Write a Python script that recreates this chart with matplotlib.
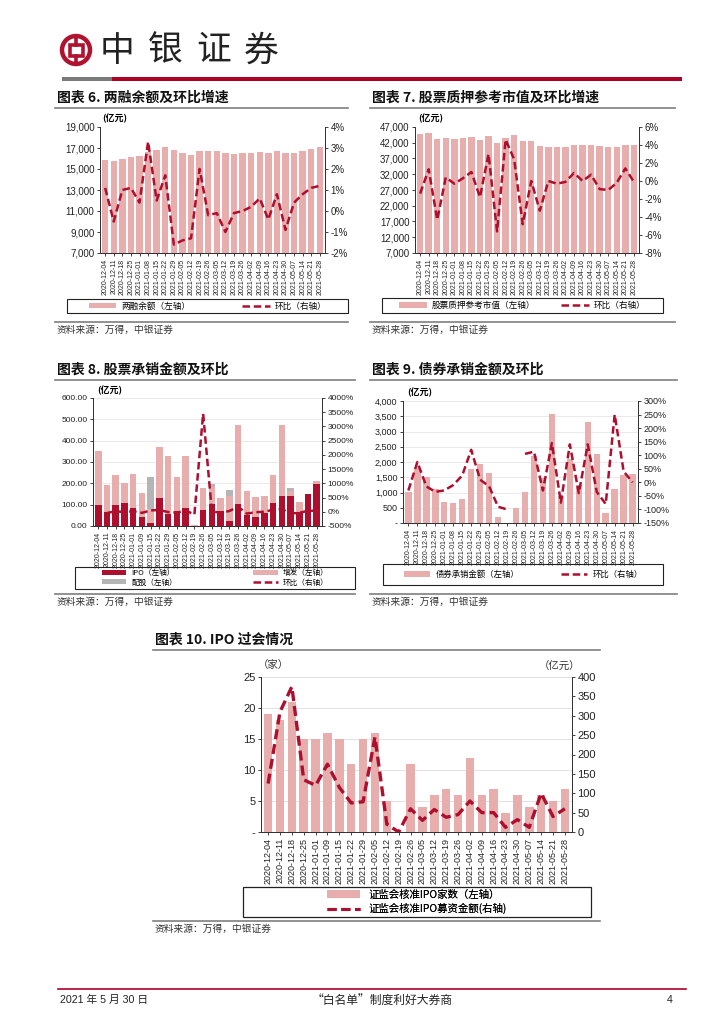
import numpy as np
import matplotlib
matplotlib.use("Agg")
import matplotlib.pyplot as plt
from matplotlib.patches import Rectangle, Circle, Patch
from matplotlib.lines import Line2D
from matplotlib.ticker import FuncFormatter

plt.rcParams['font.family'] = ['Liberation Sans Narrow', 'Liberation Sans', 'Noto Sans CJK SC']
plt.rcParams['axes.unicode_minus'] = False

# ---------------- data ----------------
dates_a = ['2020-12-04', '2020-12-11', '2020-12-18', '2020-12-25', '2021-01-01', '2021-01-08',
           '2021-01-15', '2021-01-22', '2021-01-29', '2021-02-05', '2021-02-12', '2021-02-19',
           '2021-02-26', '2021-03-05', '2021-03-12', '2021-03-19', '2021-03-26', '2021-04-02',
           '2021-04-09', '2021-04-16', '2021-04-23', '2021-04-30', '2021-05-07', '2021-05-14',
           '2021-05-21', '2021-05-28']
dates_b = [d if d != '2021-01-08' else '2021-01-09' for d in dates_a]

# chart 6: margin balance
margin_bal = [15850, 15750, 15950, 16100, 16200, 16650, 16800, 17050, 16800, 16550, 16350, 16750,
              16700, 16700, 16500, 16450, 16500, 16500, 16650, 16550, 16700, 16550, 16550, 16700,
              16900, 17100]
margin_chg = [1.1, -0.5, 1.0, 1.1, 0.4, 3.3, 0.5, 1.7, -1.6, -1.4, -1.3, 2.0, -0.2, -0.1, -1.0,
              -0.1, 0.0, 0.2, 0.6, -0.4, 0.8, -0.9, 0.4, 0.8, 1.1, 1.2]

# chart 7: pledged stock value
pledge_val = [44700, 45000, 43200, 43400, 43200, 43400, 43800, 43000, 44200, 41800, 43600, 44600,
              42400, 42500, 41000, 40800, 40700, 40700, 41200, 41200, 41400, 41000, 40700, 40700,
              41300, 41300]
pledge_chg = [-1.4, 1.3, -4.3, 0.4, -0.3, 0.3, 1.0, -1.8, 3.0, -5.6, 4.6, 2.4, -4.8, 0.0, -3.3,
              0.0, -0.3, -0.1, 0.9, 0.0, 0.7, -0.9, -1.0, -0.2, 1.4, -0.1]

# chart 8: equity underwriting
ipo_amt = [100, 65, 97, 108, 85, 40, 13, 133, 55, 68, 85, 0, 77, 105, 68, 22, 105, 52, 42, 62,
           110, 140, 140, 65, 150, 198]
seo_amt = [253, 128, 140, 92, 160, 113, 65, 237, 275, 160, 245, 5, 101, 78, 65, 118, 367, 111,
           96, 78, 130, 335, 25, 48, 2, 14]
rights_amt = [0, 0, 0, 0, 0, 0, 150, 0, 0, 0, 0, 0, 0, 14, 0, 30, 0, 0, 0, 0, 0, 0, 13, 0, 0, 0]
equity_chg = [np.nan, -45, 23, -16, 22, -38, 49, 62, -11, -31, 45, -98, 3450, 10, -32, 27, 177,
              -65, -15, 1, 71, 98, -62, -36, 35, 39]

# chart 9: bond underwriting
bond_amt = [1030, 1800, 1520, 1130, 700, 650, 800, 1760, 1940, 1650, 200, 0, 500, 1030, 2200, 1480,
            3570, 890, 2100, 1260, 3300, 2250, 320, 1120, 1580, 1620]
bond_chg = [-30, 75, -15, -35, -30, -10, 25, 120, 10, -15, -90, -100, np.nan, 105, 113, -30, 145,
            -75, 140, -40, 140, -35, -80, 250, 40, 0]

# chart 10: IPO approvals
ipo_cnt = [19, 18, 21, 15, 15, 16, 15, 11, 15, 16, 5, 0, 11, 4, 6, 7, 6, 12, 6, 7, 3, 6, 4, 6, 5, 7]
ipo_raise = [125, 310, 375, 135, 120, 175, 115, 75, 78, 245, 20, 0, 60, 30, 58, 38, 45, 80, 50, 50,
             12, 32, 12, 100, 40, 60]

# ---------------- style ----------------
PINK = '#E8AEAE'
DRED = '#AE0F2E'
GRAY = '#B5B5B5'
W, H = 724, 1024
CJK = ['Noto Sans CJK SC', 'DejaVu Sans']

fig = plt.figure(figsize=(W / 100, H / 100), dpi=100)
deco = fig.add_axes([0, 0, 1, 1])
deco.set_xlim(0, W)
deco.set_ylim(H, 0)
deco.axis('off')


def px_axes(x0, y0, x1, y1):
    return fig.add_axes([x0 / W, 1 - y1 / H, (x1 - x0) / W, (y1 - y0) / H])


def style_axes(ax, ax2, labels, fs=5, yfs=7):
    n = len(labels)
    ax.set_xlim(-0.6, n - 0.4)
    ax.set_xticks(range(n))
    ax.set_xticklabels(labels, rotation=90, fontsize=fs)
    for a in (ax, ax2):
        a.spines['top'].set_visible(False)
        for s in a.spines.values():
            s.set_linewidth(0.7)
            s.set_color('#333333')
    ax.tick_params(axis='x', length=2.5, width=0.6, pad=1.5, labelsize=fs, colors='#222222')
    ax.tick_params(axis='y', length=2.5, width=0.6, pad=1.5, labelsize=yfs, colors='#222222')
    ax2.tick_params(axis='y', length=2.5, width=0.6, pad=1.5, labelsize=yfs, colors='#222222')
    ax.set_facecolor('none')


def header_block(x0, x1, y_title, title, y_src):
    deco.text(x0 + 2, y_title, title, fontsize=10, fontweight='bold', family=CJK,
              va='center', ha='left', color='#111111')
    deco.plot([x0, x1], [y_title + 10, y_title + 10], color='#7f7f7f', lw=1.2)
    deco.plot([x0, x1], [y_src - 8, y_src - 8], color='#7f7f7f', lw=1.2)
    deco.text(x0 + 2, y_src, '资料来源：万得，中银证券', fontsize=7, family=CJK,
              va='center', ha='left', color='#333333')


def legend_box(x0, y0, x1, y1, handles, labels, ncol, fs=6.2, colsp=5, lsp=0.3):
    deco.add_patch(Rectangle((x0, y0), x1 - x0, y1 - y0, fill=False, ec='#222222', lw=0.8))
    leg = deco.legend(handles, labels, ncol=ncol, loc='center',
                      bbox_to_anchor=((x0 + x1) / 2, (y0 + y1) / 2), bbox_transform=deco.transData,
                      frameon=False, handlelength=3.2, handleheight=0.6, columnspacing=colsp,
                      handletextpad=0.6, labelspacing=lsp, borderpad=0.0,
                      prop={'family': CJK, 'size': fs})
    deco.add_artist(leg)


bar_h = lambda c: Patch(facecolor=c, edgecolor='none')
line_h = Line2D([0], [0], color=DRED, lw=1.8, ls=(0, (3, 1.5)))
pct0 = FuncFormatter(lambda v, p: f'{v:.0f}%')

# ---------------- page header ----------------
deco.add_patch(Circle((76, 50), 14, fill=False, ec='#B0122F', lw=3.2))
deco.add_patch(Rectangle((69.5, 44.5), 13, 11, fill=False, ec='#B0122F', lw=2.6))
deco.plot([76, 76], [36, 44.5], color='#B0122F', lw=2.6)
deco.plot([76, 76], [55.5, 64], color='#B0122F', lw=2.6)
for i, ch in enumerate('中银证券'):
    deco.text(100 + i * 48, 51, ch, fontsize=25, family=CJK, va='center', ha='left', color='#222222')
deco.add_patch(Rectangle((62, 77), 50, 4, color='#7a7a7a', lw=0))
deco.add_patch(Rectangle((112, 77), 570, 4, color='#AF0027', lw=0))

# ---------------- chart 6 ----------------
header_block(55, 348, 98, '图表 6. 两融余额及环比增速', 330)
ax = px_axes(100, 127, 325, 253)
x = np.arange(len(dates_a))
ax.bar(x, margin_bal, width=0.75, color=PINK, zorder=2)
ax.set_ylim(7000, 19000)
ax.set_yticks(range(7000, 19001, 2000))
ax.yaxis.set_major_formatter(FuncFormatter(lambda v, p: f'{v:,.0f}'))
ax2 = ax.twinx()
ax2.plot(x, margin_chg, color=DRED, lw=1.8, ls=(0, (3, 1.5)), zorder=3)
ax2.set_ylim(-2, 4)
ax2.set_yticks(range(-2, 5))
ax2.yaxis.set_major_formatter(pct0)
style_axes(ax, ax2, dates_a)
deco.text(102, 118, '(亿元)', fontsize=6.5, fontweight='bold', family=CJK, va='center')
legend_box(67, 299, 348, 313, [bar_h(PINK), line_h], ['两融余额（左轴）', '环比（右轴）'], 2, colsp=6)

# ---------------- chart 7 ----------------
header_block(370, 675, 98, '图表 7. 股票质押参考市值及环比增速', 330)
ax = px_axes(415, 127, 639, 253)
ax.bar(x, pledge_val, width=0.75, color=PINK, zorder=2)
ax.set_ylim(7000, 47000)
ax.set_yticks(range(7000, 47001, 5000))
ax.yaxis.set_major_formatter(FuncFormatter(lambda v, p: f'{v:,.0f}'))
ax2 = ax.twinx()
ax2.plot(x, pledge_chg, color=DRED, lw=1.8, ls=(0, (3, 1.5)), zorder=3)
ax2.set_ylim(-8, 6)
ax2.set_yticks(range(-8, 7, 2))
ax2.yaxis.set_major_formatter(pct0)
style_axes(ax, ax2, dates_a)
deco.text(418, 118, '(亿元)', fontsize=6.5, fontweight='bold', family=CJK, va='center')
legend_box(382, 298, 663, 313, [bar_h(PINK), line_h], ['股票质押参考市值（左轴）', '环比（右轴）'], 2,
           colsp=3)

# ---------------- chart 8 ----------------
header_block(55, 355, 370, '图表 8. 股票承销金额及环比', 602)
ax = px_axes(93, 398, 322, 526)
ax.bar(x, ipo_amt, width=0.75, color=DRED, zorder=2)
ax.bar(x, seo_amt, bottom=ipo_amt, width=0.75, color=PINK, zorder=2)
ax.bar(x, rights_amt, bottom=np.add(ipo_amt, seo_amt), width=0.75, color=GRAY, zorder=2)
ax.set_ylim(0, 600)
ax.set_yticks(range(0, 601, 100))
ax.yaxis.set_major_formatter(FuncFormatter(lambda v, p: f'{v:.2f}'))
ax.grid(axis='y', color='#e6e6e6', lw=0.6, zorder=0)
ax2 = ax.twinx()
ax2.plot(x, equity_chg, color=DRED, lw=1.8, ls=(0, (3, 1.5)), zorder=3)
ax2.set_ylim(-500, 4000)
ax2.set_yticks(range(-500, 4001, 500))
ax2.yaxis.set_major_formatter(pct0)
style_axes(ax, ax2, dates_b, yfs=6)
deco.text(97, 390, '(亿元)', fontsize=6.5, fontweight='bold', family=CJK, va='center')
legend_box(75, 567, 355, 589,
           [bar_h(DRED), bar_h(GRAY), bar_h(PINK), line_h],
           ['IPO（左轴）', '配股（左轴）', '增发（左轴）', '环比（右轴）'], 2, fs=5.5, colsp=10, lsp=0.15)

# ---------------- chart 9 ----------------
header_block(370, 677, 370, '图表 9. 债券承销金额及环比', 602)
ax = px_axes(403, 401, 638, 523)
ax.bar(x, bond_amt, width=0.72, color=PINK, zorder=2)
ax.set_ylim(0, 4000)
ax.set_yticks(range(0, 4001, 500))
ax.yaxis.set_major_formatter(FuncFormatter(lambda v, p: '-' if v == 0 else f'{v:,.0f}'))
ax.grid(axis='y', color='#e6e6e6', lw=0.6, zorder=0)
ax2 = ax.twinx()
ax2.plot(x, bond_chg, color=DRED, lw=1.8, ls=(0, (3, 1.5)), zorder=3)
ax2.set_ylim(-150, 300)
ax2.set_yticks(range(-150, 301, 50))
ax2.yaxis.set_major_formatter(pct0)
style_axes(ax, ax2, dates_a, yfs=6.5)
deco.text(407, 392, '(亿元)', fontsize=6.5, fontweight='bold', family=CJK, va='center')
legend_box(383, 564, 663, 585, [bar_h(PINK), line_h], ['债券承销金额（左轴）', '环比（右轴）'], 2,
           fs=6, colsp=5)

# ---------------- chart 10 ----------------
header_block(153, 600, 640, '图表 10. IPO 过会情况', 929)
ax = px_axes(261, 677, 572, 832)
ax.bar(x, ipo_cnt, width=0.72, color=PINK, zorder=2)
ax.set_ylim(0, 25)
ax.set_yticks(range(0, 26, 5))
ax.yaxis.set_major_formatter(FuncFormatter(lambda v, p: '-' if v == 0 else f'{v:.0f}'))
ax.grid(axis='y', color='#e3e3e3', lw=0.7, zorder=0)
ax2 = ax.twinx()
ax2.plot(x, ipo_raise, color=DRED, lw=2.4, ls=(0, (3, 1.5)), zorder=3)
ax2.set_ylim(0, 400)
ax2.set_yticks(range(0, 401, 50))
style_axes(ax, ax2, dates_b, fs=6.5, yfs=8)
deco.text(273, 665, '（家）', fontsize=7.5, family=CJK, va='center', ha='center', color='#333333')
deco.text(560, 667, '（亿元）', fontsize=7.5, family=CJK, va='center', ha='center', color='#333333')
deco.add_patch(Rectangle((243, 887), 348, 30, fill=False, ec='#222222', lw=0.9))
leg = deco.legend([bar_h(PINK), Line2D([0], [0], color=DRED, lw=2.2, ls=(0, (3, 1.5)))],
                  ['证监会核准IPO家数（左轴）', '证监会核准IPO募资金额(右轴)'], ncol=1, loc='center',
                  bbox_to_anchor=(417, 902), bbox_transform=deco.transData, frameon=False,
                  handlelength=3.2, labelspacing=0.35, borderpad=0.1, prop={'family': CJK, 'size': 7.5})
deco.add_artist(leg)

# ---------------- footer ----------------
deco.plot([58, 686], [989, 989], color='#AF0027', lw=1.2)
deco.text(60, 1000, '2021 年 5 月 30 日', fontsize=7.7, family=['Liberation Sans', 'Noto Sans CJK SC'],
          va='center', ha='left', color='#222222')
deco.text(382, 1000, '“白名单”制度利好大券商', fontsize=8.5, family=CJK, va='center', ha='center',
          color='#222222')
deco.text(670, 1000, '4', fontsize=7.7, family=['Liberation Sans'], va='center', ha='center',
          color='#222222')

fig.savefig('out.png', dpi=100)
